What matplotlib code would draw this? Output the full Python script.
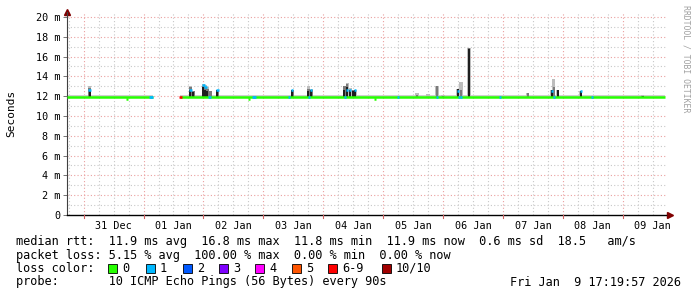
import numpy as np
import pandas as pd
import matplotlib
matplotlib.use("Agg")
import matplotlib.pyplot as plt
import matplotlib.dates as mdates
from matplotlib.patches import Rectangle

# ---- values ----
t_start = "2025-12-30 17:20"
t_end = "2026-01-09 17:20"
median_base = 11.9          # ms, flat median level

# median line segments (there is a gap on 01 Jan)
seg_start = ["2025-12-30 17:20", "2026-01-01 14:48"]
seg_end = ["2026-01-01 03:36", "2026-01-09 17:00"]

# small dips of the median below the base
dip_time = ["2025-12-31 17:12", "2026-01-02 18:24", "2026-01-04 20:48"]
dip_value = [11.75, 11.75, 11.75]

# smoke spikes: time, top of light / mid / dark smoke, median, loss class
ev_time = ["2025-12-31 02:24", "2026-01-01 18:48", "2026-01-01 20:00",
           "2026-01-02 00:00", "2026-01-02 00:48", "2026-01-02 01:36",
           "2026-01-02 02:48", "2026-01-02 05:36", "2026-01-03 11:36",
           "2026-01-03 18:00", "2026-01-03 19:12", "2026-01-04 08:24",
           "2026-01-04 09:36", "2026-01-04 10:48", "2026-01-04 12:00",
           "2026-01-04 12:48", "2026-01-05 13:36", "2026-01-05 18:00",
           "2026-01-05 21:36", "2026-01-06 00:00", "2026-01-06 06:00",
           "2026-01-06 07:12", "2026-01-06 10:24", "2026-01-07 10:00",
           "2026-01-07 19:36", "2026-01-07 20:24", "2026-01-07 22:00",
           "2026-01-08 07:12", "2026-01-09 08:00"]
ev_light = [13.0, 13.0, 12.5, 13.2, 13.1, 12.9, 12.5, 12.6, 12.6, 13.0,
            12.7, 13.0, 13.3, 12.8, 12.6, 12.6, 12.35, 12.2, 13.0, 12.1,
            12.7, 13.4, 16.9, 12.35, 12.6, 13.7, 12.6, 12.5, 12.1]
ev_mid = [12.8, 12.9, 12.5, 13.0, 12.9, 12.7, 12.5, 12.6, 12.6, 12.7,
          12.6, 13.0, 13.2, 12.6, 12.6, 12.6, 12.1, 11.9, 13.0, 12.05,
          12.7, 12.6, 16.85, 12.3, 12.6, 12.9, 12.6, 12.5, 12.0]
ev_dark = [12.6, 12.6, 12.45, 12.9, 12.6, 12.5, 11.9, 12.6, 12.6, 12.5,
           12.6, 12.6, 12.9, 12.6, 12.5, 12.6, 11.9, 11.9, 11.9, 11.9,
           12.7, 11.9, 16.8, 11.9, 12.6, 11.9, 12.6, 12.5, 12.0]
ev_median = [12.65, 12.6, 11.9, 13.1, 12.9, 11.9, 11.9, 12.6, 12.6, 11.9,
             12.6, 11.9, 12.6, 12.6, 11.9, 12.6, 11.9, 11.9, 11.9, 11.9,
             12.5, 11.9, 11.9, 11.9, 12.5, 11.9, 11.9, 12.5, 11.9]
ev_loss = ["1", "1", "0", "1", "1", "0", "0", "1", "1", "0", "1", "0", "1",
           "1", "0", "1", "0", "0", "0", "0", "1", "0", "0", "0", "1", "0",
           "0", "1", "0"]

# coloured spots on the median line (packet loss)
spot_time = ["2026-01-01 02:48", "2026-01-01 03:12", "2026-01-01 14:48",
             "2026-01-02 02:24", "2026-01-02 20:00", "2026-01-02 20:24",
             "2026-01-03 10:24", "2026-01-03 18:24", "2026-01-04 08:48",
             "2026-01-05 06:00", "2026-01-05 21:36", "2026-01-06 06:24",
             "2026-01-06 07:12", "2026-01-06 22:48", "2026-01-07 20:24",
             "2026-01-08 11:36"]
spot_loss = ["1", "1", "6-9", "1", "1", "1", "1", "1", "1", "1", "1", "1",
             "1", "1", "1", "1"]

loss_labels = ["0", "1", "2", "3", "4", "5", "6-9", "10/10"]
loss_colors = ["#26ff00", "#00b8ff", "#0059ff", "#7e00ff", "#ff00ff",
               "#ff5500", "#ff0000", "#a10000"]
loss_color = dict(zip(loss_labels, loss_colors))

legend_lines = [
    "median rtt:  11.9 ms avg  16.8 ms max  11.8 ms min  11.9 ms now  0.6 ms sd  18.5   am/s",
    "packet loss: 5.15 % avg  100.00 % max  0.00 % min  0.00 % now",
]
probe_text = "probe:       10 ICMP Echo Pings (56 Bytes) every 90s"
stamp_text = "Fri Jan  9 17:19:57 2026"


def dnum(values):
    return mdates.date2num(pd.to_datetime(values))


def main():
    W, H = 697, 297
    mono = "DejaVu Sans Mono"
    plt.rcParams["font.family"] = mono

    fig = plt.figure(figsize=(W / 100, H / 100), dpi=100)
    fig.patch.set_facecolor("white")
    ax = fig.add_axes([67 / W, (H - 215) / H, 599 / W, 203 / H])
    ax.set_facecolor("white")

    x0, x1 = dnum([t_start, t_end])
    ax.set_xlim(x0, x1)
    ax.set_ylim(0, 20.5)
    step = 1 / 60.0   # one pixel column = 24 minutes

    # grid
    for v in range(1, 21):
        col = "#eaa0a0" if v % 2 == 0 else "#c8c8c8"
        ax.axhline(v, color=col, lw=0.8, ls=(0, (1, 2)), zorder=0)
    for g in pd.date_range("2025-12-30 18:00", "2026-01-09 12:00", freq="6h"):
        col = "#eaa0a0" if g.hour == 0 else "#c8c8c8"
        ax.axvline(mdates.date2num(g), color=col, lw=0.8, ls=(0, (1, 2)), zorder=0)

    # thin base smoke along the median
    for s, e in zip(dnum(seg_start), dnum(seg_end)):
        ax.fill_between([s, e], median_base - 0.05, median_base + 0.2,
                        color="#cfcfcf", lw=0, zorder=1)

    # smoke spikes
    et = dnum(ev_time)
    light = np.array(ev_light)
    mid = np.array(ev_mid)
    dark = np.array(ev_dark)
    ax.bar(et, light - median_base, bottom=median_base, width=3.2 * step,
           color="#bdbdbd", lw=0, zorder=2)
    ax.bar(et, mid - median_base, bottom=median_base, width=2.6 * step,
           color="#7a7a7a", lw=0, zorder=3)
    ax.bar(et, dark - median_base, bottom=median_base, width=2.0 * step,
           color="#1e1e1e", lw=0, zorder=4)

    # median line
    for s, e in zip(dnum(seg_start), dnum(seg_end)):
        ax.hlines(median_base, s, e, color=loss_color["0"], lw=1.8, zorder=5)
    for t, v in zip(dnum(dip_time), dip_value):
        ax.hlines(v, t - step, t + step, color=loss_color["0"], lw=1.8, zorder=5)
    for t, v, l in zip(et, ev_median, ev_loss):
        if v != median_base or l != "0":
            ax.hlines(v, t - 1.2 * step, t + 1.2 * step, color=loss_color[l],
                      lw=1.8, zorder=6)
    for t, l in zip(dnum(spot_time), spot_loss):
        ax.hlines(median_base, t - 1.2 * step, t + 1.2 * step, color=loss_color[l],
                  lw=1.8, zorder=6)

    # axes, ticks
    for side in ["top", "right"]:
        ax.spines[side].set_visible(False)
    ax.spines["left"].set_color("#404040")
    ax.spines["bottom"].set_color("#000000")
    ax.spines["left"].set_linewidth(0.8)
    ax.spines["bottom"].set_linewidth(1.0)

    yt = list(range(0, 21, 2))
    ax.set_yticks(yt)
    ax.set_yticklabels(["0"] + [f"{v} m" for v in yt[1:]])
    ax.tick_params(axis="y", length=3, width=0.6, color="#606060",
                   labelsize=7.3, pad=2)

    noons = pd.date_range("2025-12-31 12:00", "2026-01-09 12:00", freq="1D")
    ax.set_xticks(mdates.date2num(noons))
    ax.set_xticklabels([d.strftime("%d %b") for d in noons])
    ax.tick_params(axis="x", length=0, labelsize=7.3, pad=4)
    for d in pd.date_range("2025-12-31", "2026-01-09", freq="1D"):
        ax.plot([mdates.date2num(d)] * 2, [-0.35, 0], color="#d06060",
                lw=0.8, clip_on=False, zorder=7)

    ax.set_ylabel("Seconds", fontsize=8)
    ax.yaxis.set_label_coords((16 - 67) / 599, 0.5)

    # arrows
    ax.plot([0], [1.0], marker="^", color="#800000", ms=4, transform=ax.transAxes,
            clip_on=False)
    ax.plot([1.0075], [0], marker=">", color="#800000", ms=4, transform=ax.transAxes,
            clip_on=False)

    # watermark
    fig.text(686 / W, 1 - 5 / H, "RRDTOOL / TOBI OETIKER", rotation=270,
             fontsize=5.9, color="#a0a0a0", ha="center", va="top")

    # legend text
    fs = 8.55
    ys = [241, 255, 268, 282]
    for y, line in zip(ys[:2], legend_lines):
        fig.text(16 / W, 1 - y / H, line, fontsize=fs, va="center", ha="left")
    fig.text(16 / W, 1 - ys[2] / H, "loss color:", fontsize=fs, va="center")
    sq_x = [108, 146, 183, 219, 255, 292, 328, 382]
    for sx, lab, col in zip(sq_x, loss_labels, loss_colors):
        fig.add_artist(Rectangle((sx / W, 1 - (ys[2] + 5) / H), 9 / W, 9 / H,
                                 transform=fig.transFigure, facecolor=col,
                                 edgecolor="black", lw=0.6))
        fig.text((sx + 14) / W, 1 - ys[2] / H, lab, fontsize=fs, va="center")
    fig.text(16 / W, 1 - ys[3] / H, probe_text, fontsize=fs, va="center")
    fig.text(681 / W, 1 - ys[3] / H, stamp_text, fontsize=fs, va="center", ha="right")

    fig.savefig("out.png", dpi=100)
    plt.close(fig)


if __name__ == "__main__":
    main()
